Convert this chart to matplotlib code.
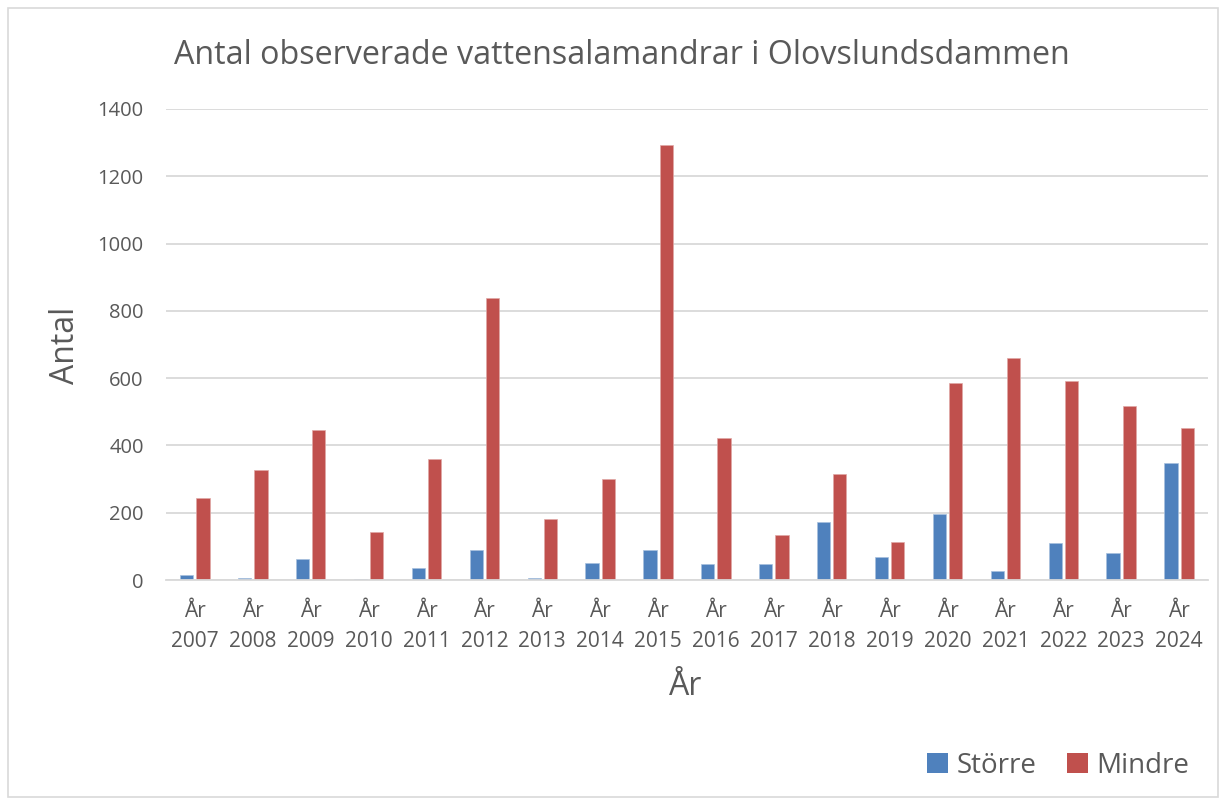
import matplotlib
matplotlib.use('Agg')
import matplotlib.pyplot as plt
from matplotlib.patches import Rectangle, Patch
import numpy as np

# Data
years = ['2007', '2008', '2009', '2010', '2011', '2012', '2013', '2014', '2015',
         '2016', '2017', '2018', '2019', '2020', '2021', '2022', '2023', '2024']
storre = [14, 7, 62, 2, 36, 90, 5, 50, 90, 49, 48, 172, 68, 197, 28, 111, 80, 347]
mindre = [245, 327, 446, 143, 359, 838, 181, 301, 1292, 421, 135, 316, 112, 586, 659, 592, 518, 452]
y_ticks = [0, 200, 400, 600, 800, 1000, 1200, 1400]

plt.rcParams['font.family'] = ['Open Sans', 'DejaVu Sans']
text_color = '#595959'
grid_color = '#D9D9D9'
blue = '#4F81BD'
red = '#C0504D'

W, H = 1226, 805
fig = plt.figure(figsize=(W / 100, H / 100), dpi=100)

# Ram runt diagrammet
fig.patches.append(Rectangle((8 / W, 8 / H), 1210 / W, 789 / H, transform=fig.transFigure,
                             fill=False, edgecolor=grid_color, linewidth=1.2))

ax = fig.add_axes([166 / W, (H - 580) / H, 1042 / W, 471 / H])

x = np.arange(len(years))
bw = 0.23
ax.bar(x - 0.14, storre, width=bw, color=blue, edgecolor='#A7C0DE', linewidth=0.5, zorder=3)
ax.bar(x + 0.14, mindre, width=bw, color=red, edgecolor='#E0A8A6', linewidth=0.5, zorder=3)

ax.set_xlim(-0.5, len(years) - 0.5)
ax.set_ylim(0, 1400)
ax.set_yticks(y_ticks)
ax.set_yticklabels([str(v) for v in y_ticks], fontsize=14.5, color=text_color)
ax.set_xticks(x)
ax.set_xticklabels(['År\n' + y for y in years], fontsize=15, color=text_color, linespacing=1.55)
ax.tick_params(axis='both', length=0)
ax.tick_params(axis='x', pad=15)
ax.tick_params(axis='y', pad=16)
ax.yaxis.grid(True, color=grid_color, linewidth=1.3, zorder=0)
for s in ['top', 'right', 'left']:
    ax.spines[s].set_visible(False)
ax.spines['bottom'].set_color(grid_color)
ax.spines['bottom'].set_linewidth(1.3)
ax.spines['bottom'].set_zorder(4)

fig.text(622 / W, 1 - 55 / H, 'Antal observerade vattensalamandrar i Olovslundsdammen',
         ha='center', va='center', fontsize=23.2, color=text_color)
fig.text(66 / W, 1 - 345 / H, 'Antal', rotation=90, ha='center', va='center',
         fontsize=23, color=text_color)
fig.text(686 / W, 1 - 686 / H, 'År', ha='center', va='center', fontsize=23, color=text_color)

handles = [Patch(facecolor=blue, label='Större'), Patch(facecolor=red, label='Mindre')]
fig.legend(handles=handles, loc='center', bbox_to_anchor=(1058 / W, 1 - 766 / H), ncol=2,
           frameon=False, fontsize=20, labelcolor=text_color, handlelength=0.75,
           handleheight=0.75, handletextpad=0.3, columnspacing=1.1)

fig.savefig('out.png', dpi=100)
